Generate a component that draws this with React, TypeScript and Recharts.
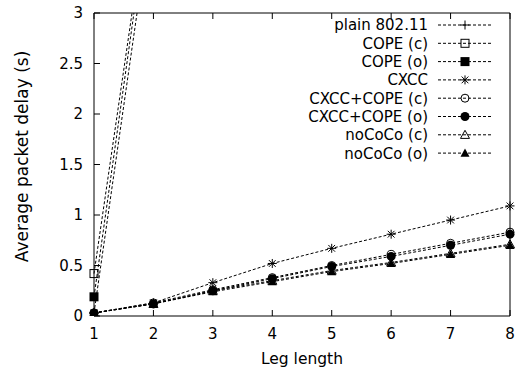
import React from 'react';
import { LineChart, Line, XAxis, YAxis, Legend } from 'recharts';

// values
const legLength = [1, 2, 3, 4, 5, 6, 7, 8];
const plain80211 = [0.03, 4.13, null, null, null, null, null, null];
const copeC = [0.42, 4.45, null, null, null, null, null, null];
const copeO = [0.19, 4.37, null, null, null, null, null, null];
const cxcc = [0.03, 0.13, 0.33, 0.52, 0.67, 0.81, 0.95, 1.09];
const cxccCopeC = [0.03, 0.13, 0.26, 0.38, 0.5, 0.61, 0.72, 0.83];
const cxccCopeO = [0.03, 0.12, 0.25, 0.37, 0.49, 0.59, 0.7, 0.81];
const noCoCoC = [0.03, 0.12, 0.25, 0.35, 0.45, 0.53, 0.62, 0.71];
const noCoCoO = [0.03, 0.12, 0.24, 0.34, 0.44, 0.52, 0.61, 0.7];

const xTicks = [1, 2, 3, 4, 5, 6, 7, 8];
const yTicks = [0, 0.5, 1, 1.5, 2, 2.5, 3];

const seriesNames = [
  'plain 802.11',
  'COPE (c)',
  'COPE (o)',
  'CXCC',
  'CXCC+COPE (c)',
  'CXCC+COPE (o)',
  'noCoCo (c)',
  'noCoCo (o)',
];
const seriesKeys = ['plain', 'copeC', 'copeO', 'cxcc', 'cxccCopeC', 'cxccCopeO', 'noCoCoC', 'noCoCoO'];
const seriesMarkers = ['plus', 'boxOpen', 'boxFilled', 'star', 'circleOpen', 'circleFilled', 'triOpen', 'triFilled'];
const seriesValues = [plain80211, copeC, copeO, cxcc, cxccCopeC, cxccCopeO, noCoCoC, noCoCoO];

const data = legLength.map((x, i) => {
  const row: any = { x };
  seriesKeys.forEach((k, j) => {
    row[k] = seriesValues[j][i];
  });
  return row;
});

const FONT = '"DejaVu Sans", sans-serif';

const Marker = ({ kind, cx, cy }: { kind: string; cx: number; cy: number }) => {
  const s = 4.5;
  switch (kind) {
    case 'plus':
      return (
        <g stroke="#000" strokeWidth={1}>
          <line x1={cx - s} x2={cx + s} y1={cy} y2={cy} />
          <line x1={cx} x2={cx} y1={cy - s} y2={cy + s} />
        </g>
      );
    case 'boxOpen':
      return <rect x={cx - s + 0.5} y={cy - s + 0.5} width={2 * s - 1} height={2 * s - 1} fill="none" stroke="#000" />;
    case 'boxFilled':
      return <rect x={cx - s} y={cy - s} width={2 * s} height={2 * s} fill="#000" />;
    case 'star':
      return (
        <g stroke="#000" strokeWidth={1}>
          <line x1={cx - s} x2={cx + s} y1={cy} y2={cy} />
          <line x1={cx} x2={cx} y1={cy - s} y2={cy + s} />
          <line x1={cx - s * 0.75} x2={cx + s * 0.75} y1={cy - s * 0.75} y2={cy + s * 0.75} />
          <line x1={cx - s * 0.75} x2={cx + s * 0.75} y1={cy + s * 0.75} y2={cy - s * 0.75} />
        </g>
      );
    case 'circleOpen':
      return <circle cx={cx} cy={cy} r={s - 0.5} fill="none" stroke="#000" />;
    case 'circleFilled':
      return <circle cx={cx} cy={cy} r={s} fill="#000" />;
    case 'triOpen':
      return (
        <polygon
          points={`${cx},${cy - s} ${cx + s},${cy + s * 0.8} ${cx - s},${cy + s * 0.8}`}
          fill="none"
          stroke="#000"
        />
      );
    default:
      return (
        <polygon points={`${cx},${cy - s} ${cx + s},${cy + s * 0.8} ${cx - s},${cy + s * 0.8}`} fill="#000" />
      );
  }
};

// legend keeps the series order of the gnuplot key
const renderLegend = () => (
  <svg width={220} height={160} style={{ display: 'block' }}>
    {seriesKeys.map((k, i) => {
      const y = 12 + i * 18.3;
      return (
        <g key={`leg-${k}`}>
          <text x={128} y={y} dy="0.36em" textAnchor="end" fontFamily={FONT} fontSize={15} fill="#000">
            {seriesNames[i]}
          </text>
          <line x1={138} x2={192} y1={y} y2={y} stroke="#000" strokeDasharray="3 2" />
          <Marker kind={seriesMarkers[i]} cx={165} cy={y} />
        </g>
      );
    })}
  </svg>
);

const App: React.FC = () => {
  const tickStyle = { fill: '#000', fontSize: 15, fontFamily: FONT };
  return (
    <div style={{ position: 'absolute', left: 0, top: 0, background: '#fff' }}>
      <LineChart width={526} height={375} data={data} margin={{ top: 12, right: 15, bottom: 0, left: 0 }}>
        <XAxis
          dataKey="x"
          type="number"
          domain={[1, 8]}
          ticks={xTicks}
          height={59}
          tickSize={-6}
          tickMargin={18}
          stroke="#000"
          tick={tickStyle}
          label={{
            value: 'Leg length',
            position: 'insideBottom',
            offset: 11,
            style: { fill: '#000', fontSize: 15.5, fontFamily: FONT },
          }}
        />
        <XAxis
          xAxisId="top"
          orientation="top"
          dataKey="x"
          type="number"
          domain={[1, 8]}
          ticks={xTicks}
          height={1}
          tickSize={-6}
          stroke="#000"
          tickFormatter={() => ''}
        />
        <YAxis
          type="number"
          domain={[0, 3]}
          ticks={yTicks}
          allowDataOverflow
          width={94}
          tickSize={-6}
          tickMargin={17}
          stroke="#000"
          tick={tickStyle}
          label={{
            value: 'Average packet delay (s)',
            angle: -90,
            position: 'center',
            dx: -25,
            dy: -8,
            style: { fill: '#000', fontSize: 17, fontFamily: FONT, textAnchor: 'middle' },
          }}
        />
        <YAxis
          yAxisId="right"
          orientation="right"
          type="number"
          domain={[0, 3]}
          ticks={yTicks}
          width={1}
          tickSize={-6}
          stroke="#000"
          tickFormatter={() => ''}
        />
        <Legend
          layout="vertical"
          align="center"
          verticalAlign="middle"
          content={renderLegend}
          wrapperStyle={{ position: 'absolute', left: 300, top: 13, width: 220, height: 160 }}
        />
        {seriesKeys.map((k, j) => (
          <Line
            key={k}
            dataKey={k}
            name={seriesNames[j]}
            stroke="#000"
            strokeWidth={1}
            strokeDasharray="3 2"
            isAnimationActive={false}
            activeDot={false}
            dot={(p: any) => {
              if (p.cy == null || p.value == null) return <g key={`d-${k}-${p.index}`} />;
              return <Marker key={`d-${k}-${p.index}`} kind={seriesMarkers[j]} cx={p.cx} cy={p.cy} />;
            }}
          />
        ))}
      </LineChart>
    </div>
  );
};

export default App;
